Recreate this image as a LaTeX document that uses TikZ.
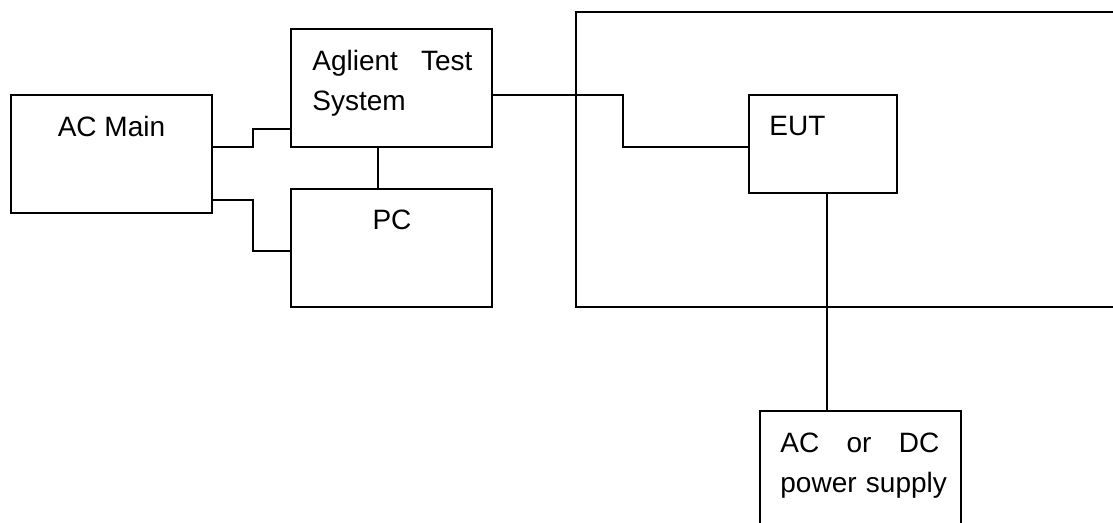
\documentclass[tikz,border=0pt]{standalone}
\usepackage{fontspec}
\setmainfont{Liberation Sans}
\tikzset{
    unit/.style={draw, line width=0.9pt, inner sep=0pt, minimum width=100.5pt, minimum height=59pt},
    txt/.style={inner sep=0pt, font=\fontsize{14pt}{20pt}\selectfont},
    wire/.style={line width=0.9pt}
}
\begin{document}
\begin{tikzpicture}[x=0.5pt,y=-0.5pt]
            \useasboundingbox (0,0) rectangle (1113,523);
            \clip (0,0) rectangle (1113,523);
            % Boxes
            \node [unit] (acmain) at (111.5,154) {};
            \node [unit] (ats) at (391.5,88) {};
            \node [unit] (pc) at (391.5,248) {};
            \node [unit, minimum width=290pt, minimum height=147.5pt] (room) at (866,159.5) {};
            \node [unit, minimum width=74pt, minimum height=49pt] (eut) at (823,144) {};
            \node [unit, minimum height=74.5pt] (psu) at (860.5,485.5) {};

            % Texts
            \node [txt, anchor=base] (acmaintxt) at (111.5,137) {AC Main};
            \node [txt, anchor=base west, text width=80pt, align=left] (atstxt) at (312,71) {Aglient\hfill Test\\System};
            \node [txt, anchor=base] (pctxt) at (392,230) {PC};
            \node [txt, anchor=base west] (euttxt) at (769,136) {EUT};
            \node [txt, anchor=base west, text width=79.5pt, align=left] (psutxt) at (780,452) {AC\hfill or\hfill DC\\\mbox{power supply}};

            % Wires
            \draw [wire] ([yshift=3.5pt]acmain.east) -- ++(20pt,0) |- ([yshift=-20.5pt]ats.west);
            \draw [wire] ([yshift=-23pt]acmain.east) -- ++(20pt,0) |- ([yshift=-1.5pt]pc.west);
            \draw [wire] ([xshift=-6.75pt]ats.south) -- ([xshift=-6.75pt]pc.north);
            \draw [wire] ([yshift=-3.5pt]ats.east) -- ++(65pt,0) |- ([yshift=-1.5pt]eut.west);
            \draw [wire] ([xshift=2pt]eut.south) -- ([xshift=2pt]eut.south |- psu.north);
        \end{tikzpicture}
\end{document}
